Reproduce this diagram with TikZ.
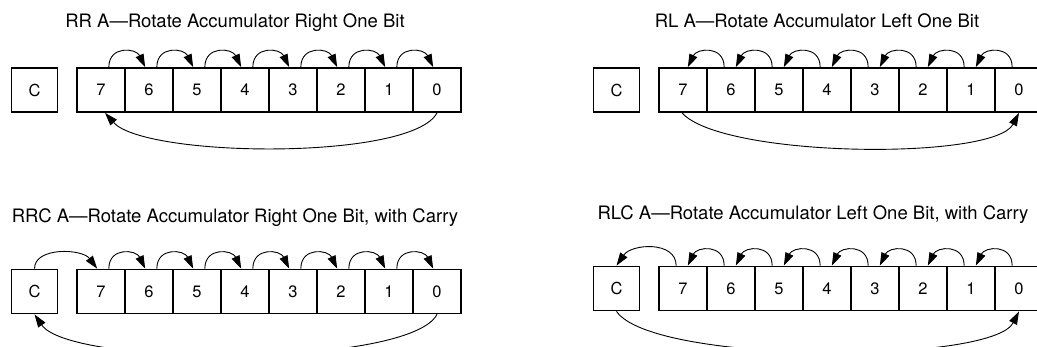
\documentclass[tikz,border=0pt]{standalone}
\usepackage{fontspec}
\setmainfont{TeX Gyre Heros}
\usetikzlibrary{arrows.meta}
\begin{document}
\begin{tikzpicture}[x=1pt,y=-1pt,
  bitbox/.style={draw, line width=1.7pt, minimum width=48pt, minimum height=44pt, inner sep=0pt, font=\fontsize{16.5}{16.5}\selectfont},
  cbox/.style={bitbox, minimum width=46pt},
  ttl/.style={anchor=base, inner sep=0pt, font=\fontsize{18.5}{18.5}\selectfont},
  arc/.style={line width=0.9pt, -{Triangle[length=13pt,width=8.5pt]}},
]
\useasboundingbox (0,0) rectangle (1037,347);
\clip (0,0) rectangle (1037,347);

% titles
\node[ttl] (ta) at (235,28) {RR A—Rotate Accumulator Right One Bit};
\node[ttl] (tb) at (817,28) {RL A—Rotate Accumulator Left One Bit};
\node[ttl] (tc) at (235,223) {RRC A—Rotate Accumulator Right One Bit, with Carry};
\node[ttl] (td) at (813,220) {RLC A—Rotate Accumulator Left One Bit, with Carry};

% boxes
\node[cbox] (ac) at (34.5,90) {C};
\node[cbox] (bc) at (616.5,90) {C};
\node[cbox] (cc) at (34.5,291.5) {C};
\node[cbox] (dc) at (616.5,288.5) {C};
\foreach \i [count=\k from 0] in {7,6,5,4,3,2,1,0} {
  \node[bitbox] (a\i) at (101+48*\k,90) {\i};
  \node[bitbox] (b\i) at (683+48*\k,90) {\i};
  \node[bitbox] (c\i) at (101+48*\k,291.5) {\i};
  \node[bitbox] (d\i) at (683+48*\k,288.5) {\i};
}

% right rotations: small arcs
\foreach \r in {a,c} {
  \foreach \i/\j in {7/6,6/5,5/4,4/3,3/2,2/1,1/0}
    \draw[arc] ([xshift=-17pt]\r\i.north east) .. controls +(0,-22) and +(-9,-19) .. ([xshift=21pt]\r\j.north west);
}
% left rotations: small arcs
\foreach \r in {b,d} {
  \foreach \i/\j in {7/6,6/5,5/4,4/3,3/2,2/1,1/0}
    \draw[arc] ([xshift=18pt]\r\j.north west) .. controls +(0,-22) and +(9,-19) .. ([xshift=-20pt]\r\i.north east);
}

% RR A wrap
\draw[arc] (a0.south) .. controls +(-25,48) and +(40,45) .. ([xshift=4pt]a7.south);
% RL A wrap
\draw[arc] ([xshift=-1pt]b7.south) .. controls +(40,45) and +(-25,48) .. (b0.south);
% RRC A
\draw[arc] (cc.north) .. controls +(0,-22) and +(-15,-20) .. ([xshift=21pt]c7.north west);
\draw[arc] (c0.south) .. controls +(-27,53) and +(36,53) .. (cc.south);
% RLC A
\draw[arc] ([xshift=18pt]d7.north west) .. controls +(0,-25) and +(15,-22) .. (dc.north);
\draw[arc] (dc.south) .. controls +(36,53) and +(-27,53) .. (d0.south);
\end{tikzpicture}
\end{document}
